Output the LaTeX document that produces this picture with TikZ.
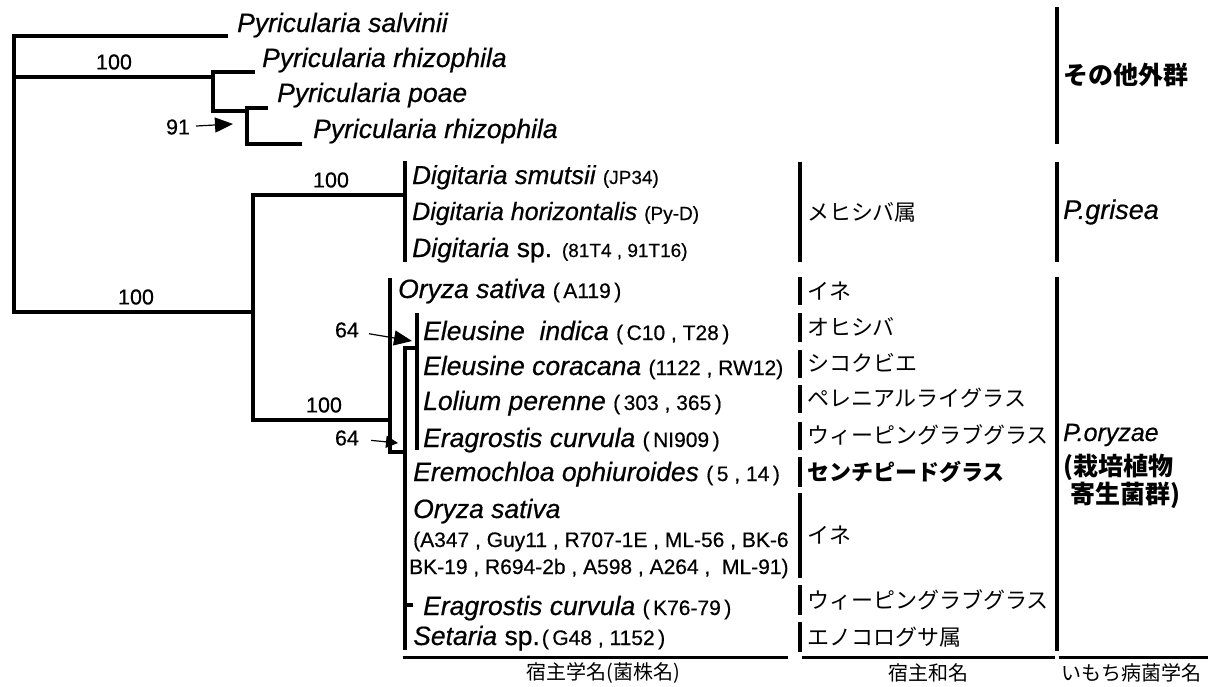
\documentclass[tikz,border=0pt]{standalone}
\usepackage{fontspec}
\setmainfont{Liberation Sans}[FakeBold=0.5]
\newfontfamily\jp{Noto Sans CJK JP}
\usetikzlibrary{arrows.meta}
\newcommand\strn[1]{{\fontsize{21}{23}\selectfont\upshape #1}}
\newcommand\strd[1]{{\fontsize{19}{21}\selectfont\upshape #1}}
\begin{document}
\begin{tikzpicture}[x=1pt,y=-1pt,
  br/.style={line width=4.5pt, line join=miter},
  bar/.style={line width=4.5pt},
  rulel/.style={line width=3pt},
  sp/.style={anchor=base west, inner sep=0pt, font=\fontsize{26.5}{30}\selectfont\itshape},
  strline/.style={anchor=base west, inner sep=0pt, font=\fontsize{21}{23}\selectfont},
  boot/.style={inner sep=0pt, font=\fontsize{21.5}{23}\selectfont},
  jpn/.style={anchor=west, inner sep=0pt, font=\jp\fontsize{22}{24}\selectfont},
  jpbold/.style={anchor=west, inner sep=0pt, font=\jp\bfseries\fontsize{25}{30}\selectfont},
  grp/.style={anchor=west, inner sep=0pt, font=\fontsize{25}{28}\selectfont\itshape},
  hdr/.style={inner sep=0pt, font=\jp\fontsize{20}{22}\selectfont},
  ptr/.style={line width=1.2pt, -{Triangle[length=18pt,width=15pt]}},
  ptrs/.style={line width=1.2pt, -{Triangle[length=12pt,width=12pt]}}
]
\useasboundingbox (0,0) rectangle (1208,686);

% ---------- outgroup tree ----------
\coordinate (rt) at (14,36);
\coordinate (rb) at (14,312);
\coordinate (tSal) at (228,36);
\coordinate (rA) at (14,77);
\coordinate (nA) at (213,77);
\coordinate (nAt) at (213,72);
\coordinate (tRh1) at (255,72);
\coordinate (nAb) at (213,111);
\coordinate (nB) at (247,111);
\coordinate (nBt) at (247,108);
\coordinate (tPoa) at (268,108);
\coordinate (nBb) at (247,144);
\coordinate (tRh2) at (302,144);
\coordinate (nC) at (253,312);

\draw[br] (tSal) -- (rt) -- (rb) -- (nC);
\draw[br] (rA) -- (nA);
\draw[br] (tRh1) -- (nAt) -- (nAb) -- (nB);
\draw[br] (tPoa) -- (nBt) -- (nBb) -- (tRh2);

% ---------- ingroup tree ----------
\coordinate (nCt) at (253,195);
\coordinate (nCb) at (253,420);
\coordinate (dig) at (403,195);
\coordinate (nD) at (390,420);
\coordinate (digT) at (405,161);
\coordinate (digB) at (405,262);
\coordinate (nDt) at (390,278);
\coordinate (nDb) at (390,452);
\coordinate (nE) at (405,452);
\coordinate (nEt) at (405,348);
\coordinate (nEb) at (405,650);
\coordinate (nF) at (415,348);
\coordinate (gT) at (417,313);
\coordinate (gB) at (417,450);
\coordinate (nK) at (405,605);
\coordinate (tK) at (413,605);

\draw[br] (dig) -- (nCt) -- (nCb) -- (nD);
\draw[bar] (digT) -- (digB);
\draw[br] (nDt) -- (nDb) -- (nE);
\draw[br] (nF) -- (nEt) -- (nEb);
\draw[bar] (gT) -- (gB);
\draw[br] (nK) -- (tK);

% ---------- support values ----------
\node[boot] (b1) at (114,62) {100};
\node[boot] (b2) at (331,180) {100};
\node[boot] (b3) at (136,297) {100};
\node[boot] (b4) at (324,405) {100};
\node[boot] (b5) at (178,127) {91};
\node[boot] (b6) at (347,330) {64};
\node[boot] (b7) at (347,438) {64};
\coordinate (a5) at (233,124);
\coordinate (a6) at (412,341);
\coordinate (a7) at (398,443);
\draw[ptr, shorten <=6pt] (b5) -- (a5);
\draw[ptr, shorten <=10pt] (b6) -- (a6);
\draw[ptrs, shorten <=12pt] (b7) -- (a7);

% ---------- species ----------
\node[sp] (s1) at (237,32) {Pyricularia salvinii};
\node[sp] (s2) at (262,67) {Pyricularia rhizophila};
\node[sp] (s3) at (277,102) {Pyricularia poae};
\node[sp] (s4) at (313,138) {Pyricularia rhizophila};

\node[sp, font=\fontsize{26}{30}\selectfont\itshape] (d1) at (412,184) {Digitaria smutsii \strd{(JP34)}};
\node[sp, font=\fontsize{25}{30}\selectfont\itshape] (d2) at (412,220) {Digitaria horizontalis \strd{(Py-D)}};
\node[sp] (d3) at (412,257) {Digitaria \upshape sp. \strd{(81T4 , 91T16)}};

\node[sp] (o1) at (398,298) {Oryza sativa \strn{(\,A119\,)}};
\node[sp] (o2) at (423,340) {Eleusine\ \ indica \strn{(\,C10 , T28\,)}};
\node[sp] (o3) at (423,375) {Eleusine coracana \strn{(1122 , RW12)}};
\node[sp] (o4) at (423,410) {Lolium perenne \strn{(\,303 , 365\,)}};
\node[sp] (o5) at (423,447) {Eragrostis curvula \strn{(\,NI909\,)}};
\node[sp] (o6) at (413,481) {Eremochloa ophiuroides \strn{(\,5 , 14\,)}};
\node[sp] (o7) at (413,518) {Oryza sativa};
\node[strline] (o7a) at (413,547) {(A347 , Guy11 , R707-1E , ML-56 , BK-6};
\node[strline] (o7b) at (409,574) {BK-19 , R694-2b , A598 , A264 ,\ \ ML-91)};
\node[sp] (o8) at (423,615) {Eragrostis curvula \strn{(\,K76-79\,)}};
\node[sp] (o9) at (413,645) {Setaria \upshape sp.\hspace{2pt}\strn{(\,G48 , 1152\,)}};

% ---------- host common names ----------
\foreach \n/\a/\b in {h1/162/262, h2/277/305, h3/313/342, h4/350/378, h5/385/413,
                      h6/422/450, h7/457/487, h8/493/578, h9/585/615, h10/622/652}{
  \coordinate (\n t) at (800,\a);
  \coordinate (\n b) at (800,\b);
  \draw[bar] (\n t) -- (\n b);
}
\node[jpn] (j1) at (807,212) {メヒシバ属};
\node[jpn] (j2) at (807,291) {イネ};
\node[jpn] (j3) at (807,327) {オヒシバ};
\node[jpn] (j4) at (807,363) {シコクビエ};
\node[jpn] (j5) at (807,398) {ペレニアルライグラス};
\node[jpn] (j6) at (807,435) {ウィーピングラブグラス};
\node[jpn, font=\jp\bfseries\fontsize{22}{24}\selectfont] (j7) at (807,472) {センチピードグラス};
\node[jpn] (j8) at (807,535) {イネ};
\node[jpn] (j9) at (807,600) {ウィーピングラブグラス};
\node[jpn] (j10) at (807,637) {エノコログサ属};

% ---------- pathogen groups ----------
\coordinate (g1t) at (1057,7);
\coordinate (g1b) at (1057,144);
\coordinate (g2t) at (1057,162);
\coordinate (g2b) at (1057,262);
\coordinate (g3t) at (1057,277);
\coordinate (g3b) at (1057,651);
\draw[bar] (g1t) -- (g1b);
\draw[bar] (g2t) -- (g2b);
\draw[bar] (g3t) -- (g3b);
\node[jpbold] (p1) at (1063,75) {その他外群};
\node[grp, font=\fontsize{27}{28}\selectfont\itshape] (p2) at (1063,212) {P.grisea};
\node[grp] (p3) at (1063,435) {P.oryzae};
\node[jpbold] (p4) at (1063,467) {(栽培植物};
\node[jpbold] (p5) at (1070,495) {寄生菌群)};

% ---------- column rules and headers ----------
\coordinate (L1a) at (403,657);
\coordinate (L1b) at (788,657);
\coordinate (L2a) at (802,657);
\coordinate (L2b) at (1055,657);
\coordinate (L3a) at (1059,657);
\coordinate (L3b) at (1208,657);
\draw[rulel] (L1a) -- (L1b);
\draw[rulel] (L2a) -- (L2b);
\draw[rulel] (L3a) -- (L3b);
\node[hdr] (c1) at (603,673) {宿主学名(菌株名)};
\node[hdr] (c2) at (928,673) {宿主和名};
\node[hdr] (c3) at (1131,673) {いもち病菌学名};
\end{tikzpicture}
\end{document}
